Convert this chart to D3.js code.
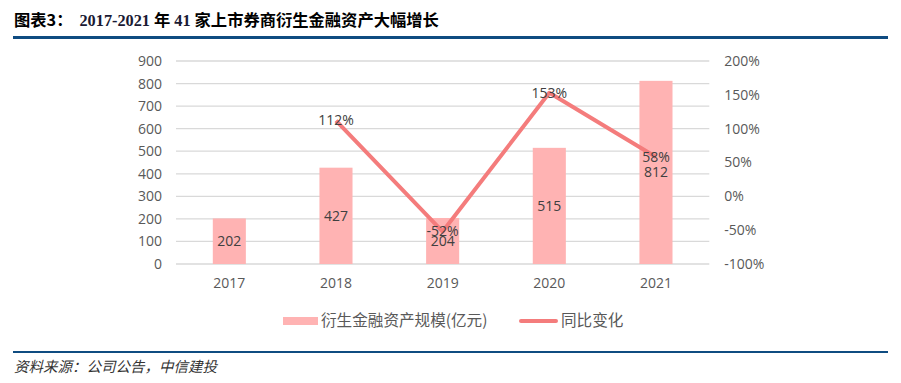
<!DOCTYPE html>
<html><head><meta charset="utf-8">
<script src="https://cdn.jsdelivr.net/npm/d3@7"></script>
<style>
html,body{margin:0;padding:0;background:#fff;}
svg{display:block;}
</style></head>
<body>
<svg id="c" width="901" height="383"></svg>
<script>
const years = ["2017","2018","2019","2020","2021"];
const assets = [202,427,204,515,812];
const growth = [null,112,-52,153,58];
const leftTicks = [0,100,200,300,400,500,600,700,800,900];
const rightTicks = [-100,-50,0,50,100,150,200];

const svg = d3.select("#c");
const m = {left:176, right:709.3, top:61, bottom:264};
const axisFont = "'Open Sans','Liberation Sans',sans-serif";
const cjk = "'Noto Sans CJK SC','Noto Sans',sans-serif";

const x = d3.scaleBand().domain(years).range([m.left, m.right]).paddingInner(0.69).paddingOuter(0.345);
const yL = d3.scaleLinear().domain([0,900]).range([m.bottom, m.top]);
const yR = d3.scaleLinear().domain([-100,200]).range([m.bottom, m.top]);

// Title
const title = svg.append("text").attr("x",14).attr("y",25.5).attr("font-size",16.3).attr("font-weight","bold");
title.append("tspan").attr("font-family",cjk).attr("fill","#000").text("图表3：");
title.append("tspan").attr("font-family","'Liberation Serif',serif").attr("fill","#1a1a33").attr("dx",7).text("2017-2021");
title.append("tspan").attr("font-family",cjk).attr("fill","#000").attr("dx",4).text("年");
title.append("tspan").attr("font-family","'Liberation Serif',serif").attr("fill","#1a1a33").attr("dx",4).text("41");
title.append("tspan").attr("font-family",cjk).attr("fill","#000").attr("dx",4).text("家上市券商衍生金融资产大幅增长");

svg.append("rect").attr("x",13).attr("y",36).attr("width",875).attr("height",3).attr("fill","#0f4c81");
svg.append("rect").attr("x",13).attr("y",351).attr("width",875).attr("height",2).attr("fill","#0f4c81");

// Gridlines
svg.append("g").selectAll("line").data(leftTicks).join("line")
  .attr("x1",m.left).attr("x2",m.right)
  .attr("y1",d=>yL(d)).attr("y2",d=>yL(d))
  .attr("stroke","#d9d9d9").attr("stroke-width",1.3);

// Left axis
const gl = svg.append("g").attr("transform",`translate(${m.left},0)`)
  .call(d3.axisLeft(yL).tickValues(leftTicks).tickSize(0).tickPadding(14));
gl.select(".domain").remove();
gl.selectAll("text").attr("font-family",axisFont).attr("font-size",14).attr("fill","#595959");

// Right axis
const gr = svg.append("g").attr("transform",`translate(${m.right},0)`)
  .call(d3.axisRight(yR).tickValues(rightTicks).tickSize(0).tickPadding(15).tickFormat(d=>d+"%"));
gr.select(".domain").remove();
gr.selectAll("text").attr("font-family",axisFont).attr("font-size",14).attr("fill","#595959");

// X axis
const gx = svg.append("g").attr("transform",`translate(0,${m.bottom})`)
  .call(d3.axisBottom(x).tickSize(0).tickPadding(14));
gx.select(".domain").remove();
gx.selectAll("text").attr("font-family",axisFont).attr("font-size",14).attr("fill","#595959");

// Bars
svg.append("g").selectAll("rect").data(assets).join("rect")
  .attr("x",(d,i)=>x(years[i])).attr("width",x.bandwidth())
  .attr("y",d=>yL(d)).attr("height",d=>yL(0)-yL(d))
  .attr("fill","#ffb3b3");

// Bar labels
svg.append("g").selectAll("text").data(assets).join("text")
  .attr("x",(d,i)=>x(years[i])+x.bandwidth()/2)
  .attr("y",d=>(yL(d)+yL(0))/2)
  .attr("dy","0.35em").attr("text-anchor","middle")
  .attr("font-family",axisFont).attr("font-size",14).attr("fill","#404040")
  .text(d=>d);

// Line
const pts = growth.map((g,i)=>({g,yr:years[i]})).filter(d=>d.g!==null);
const line = d3.line().x(d=>x(d.yr)+x.bandwidth()/2).y(d=>yR(d.g));
svg.append("path").datum(pts).attr("d",line)
  .attr("fill","none").attr("stroke","#f47c7c").attr("stroke-width",4)
  .attr("stroke-linejoin","round");

// Line labels
svg.append("g").selectAll("text").data(pts).join("text")
  .attr("x",d=>x(d.yr)+x.bandwidth()/2)
  .attr("y",d=>yR(d.g))
  .attr("dy","0.35em").attr("text-anchor","middle")
  .attr("font-family",axisFont).attr("font-size",14).attr("fill","#404040")
  .text(d=>d.g+"%");

// Legend
const lg = svg.append("g");
lg.append("rect").attr("x",283).attr("y",317).attr("width",35).attr("height",8).attr("fill","#ffb3b3");
lg.append("text").attr("x",321).attr("y",321).attr("dy","0.35em")
  .attr("font-family",cjk).attr("font-size",15.6).attr("fill","#595959").text("衍生金融资产规模(亿元)");
lg.append("line").attr("x1",521).attr("x2",556).attr("y1",321).attr("y2",321)
  .attr("stroke","#f47c7c").attr("stroke-width",4).attr("stroke-linecap","round");
lg.append("text").attr("x",561).attr("y",321).attr("dy","0.35em")
  .attr("font-family",cjk).attr("font-size",15.6).attr("fill","#595959").text("同比变化");

// Source
svg.append("text").attr("x",14).attr("y",371.5)
  .attr("font-family",cjk).attr("font-size",14.5).attr("font-style","italic").attr("fill","#333")
  .text("资料来源：公司公告，中信建投");
</script>
</body></html>
